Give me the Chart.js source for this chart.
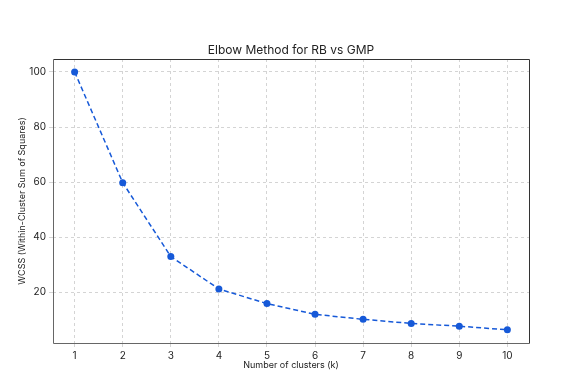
<!DOCTYPE html>
<html>
<head>
<meta charset="utf-8">
<script src="https://cdn.jsdelivr.net/npm/chart.js@4"></script>
<style>
  html, body { margin: 0; padding: 0; background: #fff; overflow: hidden; }
  canvas { display: block; }
</style>
</head>
<body>
<canvas id="elbow" width="575" height="391"></canvas>
<script>
// cluster counts and WCSS values
const clusters = [1, 2, 3, 4, 5, 6, 7, 8, 9, 10];
const wcss = [100, 59.8, 33.0, 21.2, 15.9, 12.0, 10.2, 8.7, 7.7, 6.4];
const yTicks = [20, 40, 60, 80, 100];
const chartTitle = "Elbow Method for RB vs GMP";

const FONT = "Inter, 'Noto Sans', sans-serif";
const BLUE = "#1659d8";
const GRID = "#d4d4d4";

// axes box like matplotlib spines + title centred over the plot area
const frameBox = {
  id: "frameBox",
  afterDraw(chart) {
    const { ctx, chartArea: a } = chart;
    const l = Math.round(a.left) + 0.5, t = Math.round(a.top) + 0.5;
    const r = Math.round(a.right) + 0.5, b = Math.round(a.bottom) + 0.5;
    ctx.save();
    ctx.lineWidth = 1;
    // top and right spines darker, left and bottom a bit grey
    ctx.strokeStyle = "#333";
    ctx.beginPath();
    ctx.moveTo(l, t); ctx.lineTo(r, t); ctx.lineTo(r, b);
    ctx.stroke();
    ctx.strokeStyle = "#666";
    ctx.beginPath();
    ctx.moveTo(l, t); ctx.lineTo(l, b); ctx.lineTo(r, b);
    ctx.stroke();
    ctx.fillStyle = "#222";
    ctx.font = "12px " + FONT;
    ctx.textAlign = "center";
    ctx.textBaseline = "middle";
    ctx.fillText(chartTitle, (a.left + a.right) / 2, a.top - 9);
    ctx.restore();
  },
};

new Chart(document.getElementById("elbow").getContext("2d"), {
  type: "line",
  data: {
    datasets: [
      {
        label: "WCSS",
        data: clusters.map((k, i) => ({ x: k, y: wcss[i] })),
        borderColor: BLUE,
        backgroundColor: BLUE,
        borderWidth: 1.5,
        borderDash: [5, 3],
        pointRadius: 3.5,
        pointHoverRadius: 3.5,
        pointBorderWidth: 0,
        tension: 0,
        fill: false,
      },
    ],
  },
  options: {
    responsive: false,
    animation: false,
    devicePixelRatio: 1,
    layout: { padding: { left: 17, right: 46, top: 59, bottom: 20 } },
    plugins: {
      legend: { display: false },
      tooltip: { enabled: false },
      title: { display: false },
    },
    scales: {
      x: {
        type: "linear",
        min: 0.55,
        max: 10.45,
        afterBuildTicks: (s) => { s.ticks = clusters.map((v) => ({ value: v })); },
        afterFit: (s) => { s.height = 28; },
        border: { display: false, dash: [3, 3] },
        grid: { color: GRID, tickColor: GRID, tickLength: 4 },
        ticks: { color: "#222", font: { family: FONT, size: 10 }, padding: 3 },
        title: {
          display: true,
          text: "Number of clusters (k)",
          color: "#222",
          font: { family: FONT, size: 9 },
          padding: { top: 2, bottom: 0 },
        },
      },
      y: {
        type: "linear",
        min: 1.6,
        max: 104.7,
        afterBuildTicks: (s) => { s.ticks = yTicks.map((v) => ({ value: v })); },
        afterFit: (s) => { s.width = 36; },
        border: { display: false, dash: [3, 3] },
        grid: { color: GRID, tickColor: GRID, tickLength: 4 },
        ticks: { color: "#222", font: { family: FONT, size: 10 }, padding: 3 },
        title: {
          display: true,
          text: "WCSS (Within-Cluster Sum of Squares)",
          color: "#222",
          font: { family: FONT, size: 9 },
          padding: { top: 0, bottom: 4 },
        },
      },
    },
  },
  plugins: [frameBox],
});
</script>
</body>
</html>
